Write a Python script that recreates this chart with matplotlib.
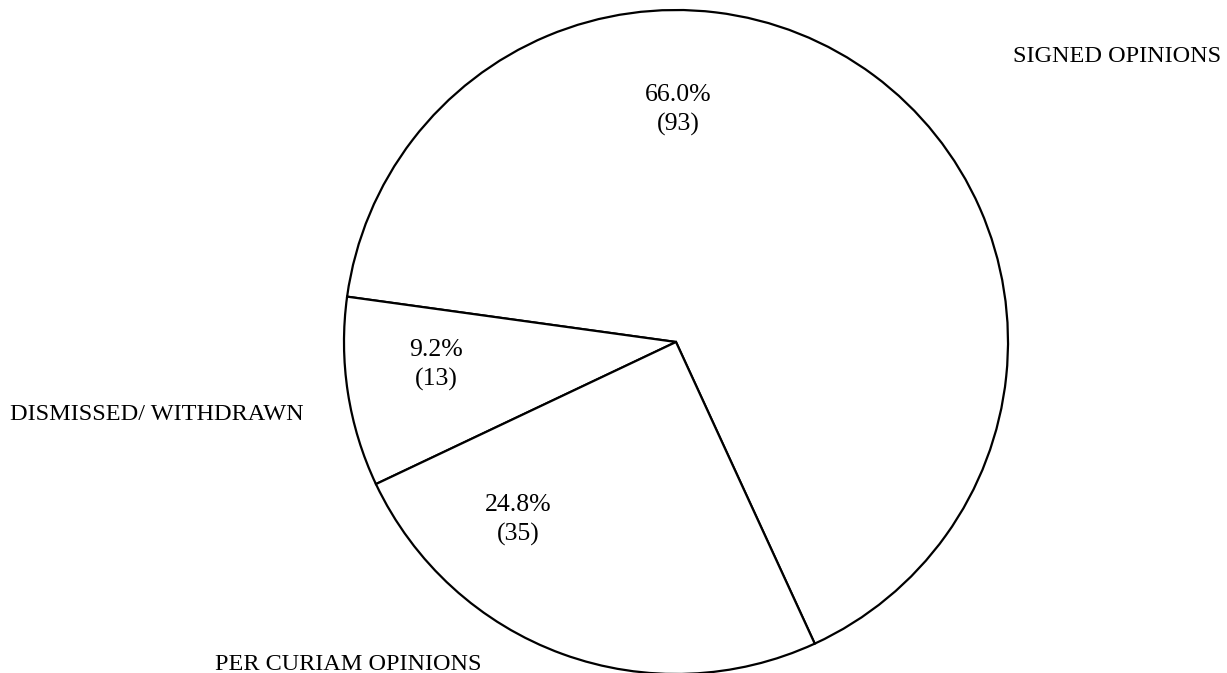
import matplotlib
matplotlib.use("Agg")
import matplotlib.pyplot as plt

# case dispositions
categories = ["SIGNED OPINIONS", "DISMISSED/ WITHDRAWN", "PER CURIAM OPINIONS"]
counts = [93, 13, 35]
percents = [66.0, 9.2, 24.8]

plt.rcParams['font.family'] = ['Liberation Serif', 'DejaVu Serif']

W, H = 1227, 673
fig = plt.figure(figsize=(W / 100, H / 100), dpi=100)
ax = fig.add_axes([0, 0, 1, 1])

# pie laid out in pixel units (y measured from the bottom)
cx, cy, r = 676, H - 342, 332
ax.pie(counts, center=(cx, cy), radius=r, startangle=-65.3, counterclock=True,
       colors=['white'] * 3,
       wedgeprops=dict(edgecolor='black', linewidth=1.6))
ax.set_xlim(0, W)
ax.set_ylim(0, H)
ax.set_aspect('equal')
ax.axis('off')

# inside labels (pixel positions, y down)
inner_pos = [(678, 110), (436, 365), (518, 520)]
for (x, y), p, n in zip(inner_pos, percents, counts):
    ax.text(x, H - y, f"{p:.1f}%\n({n})", ha='center', va='center',
            fontsize=18.5, linespacing=1.35)

# outside labels
outer_pos = [(1221, 57, 'right'), (10, 414, 'left'), (215, 664, 'left')]
for (x, y, ha), name in zip(outer_pos, categories):
    ax.text(x, H - y, name, ha=ha, va='center', fontsize=17.5)

fig.savefig("out.png", dpi=100, facecolor='white')
